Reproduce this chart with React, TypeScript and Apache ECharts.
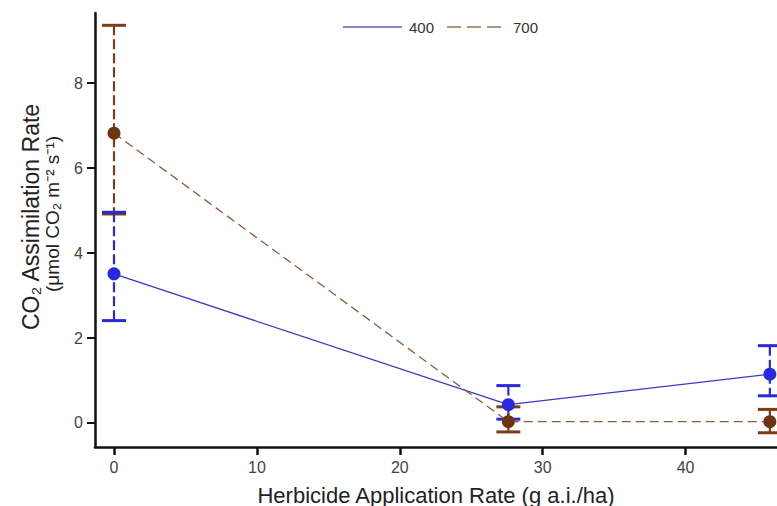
import React, { useEffect, useRef } from "react";
import * as echarts from "echarts";

const xValues = [0, 27.6, 45.9];
const co2_400 = [3.51, 0.43, 1.15];
const co2_400Low = [2.41, 0.09, 0.64];
const co2_400High = [4.96, 0.88, 1.82];
const co2_700 = [6.82, 0.03, 0.03];
const co2_700Low = [4.92, -0.21, -0.23];
const co2_700High = [9.36, 0.38, 0.32];
const xTicks = [0, 10, 20, 30, 40];
const yTicks = [0, 2, 4, 6, 8];
const seriesNames = ["400", "700"];

const BLUE_LINE = "#3a3ac8";
const BLUE_MARK = "#2929e3";
const BROWN_LINE = "#8e5b36";
const BROWN_MARK = "#6c3511";
const FONT = "Liberation Sans, Arial, sans-serif";

function errorSeries(name: string, lows: number[], highs: number[], color: string) {
  return {
    type: "custom",
    name: name + "-err",
    z: 1,
    data: xValues.map((x, i) => [x, lows[i], highs[i]]),
    encode: { x: 0, y: [1, 2] },
    renderItem: (params: any, api: any) => {
      const x = api.value(0);
      const top = api.coord([x, api.value(2)]);
      const bot = api.coord([x, api.value(1)]);
      return {
        type: "group",
        children: [
          {
            type: "line",
            shape: { x1: top[0], y1: top[1], x2: bot[0], y2: bot[1] },
            style: { stroke: color, lineWidth: 2.2, lineDash: [10, 4] },
          },
          {
            type: "line",
            shape: { x1: top[0] - 12, y1: top[1], x2: top[0] + 12, y2: top[1] },
            style: { stroke: color, lineWidth: 3 },
          },
          {
            type: "line",
            shape: { x1: bot[0] - 12, y1: bot[1], x2: bot[0] + 12, y2: bot[1] },
            style: { stroke: color, lineWidth: 3 },
          },
        ],
      };
    },
  };
}

export default function App() {
  const ref = useRef<HTMLDivElement>(null);
  useEffect(() => {
    if (!ref.current) return;
    const chart = echarts.init(ref.current, null, { renderer: "svg" });
    chart.setOption({
      animation: false,
      textStyle: { fontFamily: FONT },
      grid: { left: 95, top: 13, right: 0, bottom: 59, containLabel: false, outerBoundsMode: "none" },
      xAxis: {
        type: "value",
        min: -1.33,
        max: 46.4,
        splitLine: { show: false },
        axisLine: { show: true, onZero: false, lineStyle: { color: "#111", width: 2.5 } },
        axisTick: { show: true, customValues: xTicks, length: 8, lineStyle: { color: "#111", width: 2.5 } },
        axisLabel: { customValues: xTicks, margin: 12, fontSize: 16, color: "#444", fontFamily: FONT },
        name: "Herbicide Application Rate (g a.i./ha)",
        nameLocation: "middle",
        nameGap: 37,
        nameTextStyle: { fontSize: 22, color: "#222", fontFamily: FONT },
      },
      yAxis: {
        type: "value",
        min: -0.565,
        max: 9.65,
        splitLine: { show: false },
        axisLine: { show: true, onZero: false, lineStyle: { color: "#111", width: 2.5 } },
        axisTick: { show: true, customValues: yTicks, length: 8, lineStyle: { color: "#111", width: 2 } },
        axisLabel: { customValues: yTicks, margin: 12, fontSize: 16, color: "#444", fontFamily: FONT },
      },
      graphic: [
        {
          type: "text",
          x: 31,
          y: 217,
          rotation: Math.PI / 2,
          style: {
            text: "CO₂ Assimilation Rate",
            fontSize: 23,
            fontFamily: FONT,
            fill: "#222",
            align: "center",
            verticalAlign: "middle",
          },
        },
        {
          type: "text",
          x: 52,
          y: 214,
          rotation: Math.PI / 2,
          style: {
            text: "(μmol CO₂ m⁻² s⁻¹)",
            fontSize: 19,
            fontFamily: FONT,
            fill: "#222",
            align: "center",
            verticalAlign: "middle",
          },
        },
        {
          type: "line",
          shape: { x1: 343, y1: 27, x2: 402, y2: 27 },
          style: { stroke: "#5d5db8", lineWidth: 1.5 },
        },
        {
          type: "text",
          x: 409,
          y: 27,
          style: { text: seriesNames[0], fontSize: 15, fontFamily: FONT, fill: "#333", verticalAlign: "middle" },
        },
        {
          type: "line",
          shape: { x1: 447, y1: 27, x2: 503, y2: 27 },
          style: { stroke: "#94725a", lineWidth: 1.5, lineDash: [14, 6] },
        },
        {
          type: "text",
          x: 513,
          y: 27,
          style: { text: seriesNames[1], fontSize: 15, fontFamily: FONT, fill: "#333", verticalAlign: "middle" },
        },
      ],
      series: [
        errorSeries(seriesNames[1], co2_700Low, co2_700High, "#7a3d15"),
        errorSeries(seriesNames[0], co2_400Low, co2_400High, "#2b2bd6"),
        {
          type: "line",
          name: seriesNames[0],
          z: 3,
          data: xValues.map((x, i) => [x, co2_400[i]]),
          symbol: "circle",
          symbolSize: 13,
          itemStyle: { color: BLUE_MARK },
          lineStyle: { color: BLUE_LINE, width: 1.3 },
        },
        {
          type: "line",
          name: seriesNames[1],
          z: 3,
          data: xValues.map((x, i) => [x, co2_700[i]]),
          symbol: "circle",
          symbolSize: 13,
          itemStyle: { color: BROWN_MARK },
          lineStyle: { color: BROWN_LINE, width: 1.3, type: [9, 5] },
        },
      ],
    });
    return () => chart.dispose();
  }, []);
  return (
    <div
      ref={ref}
      style={{ position: "absolute", left: 0, top: 0, width: 777, height: 506, background: "#fff" }}
    />
  );
}
